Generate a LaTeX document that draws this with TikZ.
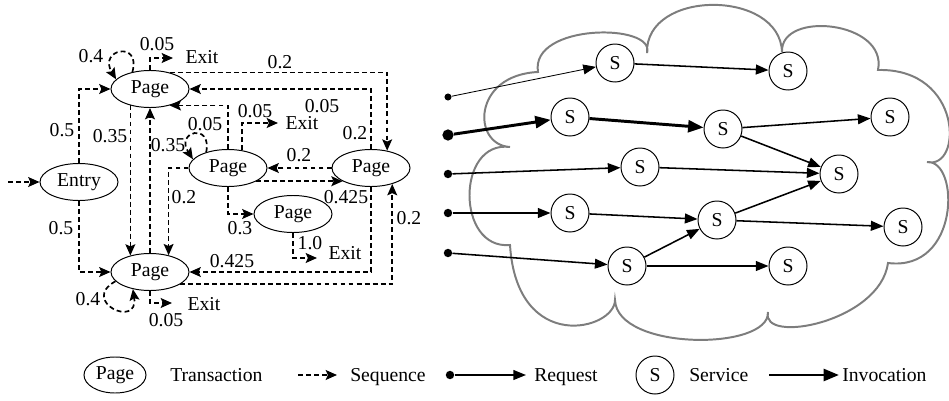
\documentclass[tikz,border=0pt]{standalone}
\usepackage{fontspec}
\setmainfont{Liberation Serif}
\newfontfamily\timesfont{Liberation Serif}
\usetikzlibrary{arrows.meta, shapes.geometric, positioning}
\definecolor{CloudColor}{RGB}{125,125,125}
\tikzstyle{trans} = [ellipse, draw, line width=0.7pt, minimum width=1.95cm, minimum height=0.925cm, inner sep=0pt]
\tikzstyle{srv} = [circle, draw, line width=0.7pt, minimum size=0.95cm, inner sep=0pt]
\tikzstyle{dot} = [circle, fill, inner sep=0pt, minimum size=6pt]
\tikzstyle{seq} = [line width=1.2pt, dash pattern=on 3.5pt off 2.2pt, -{Stealth[length=8pt,width=7pt,inset=1.5pt]}]
\tikzstyle{req} = [line width=1.1pt, -{Triangle[length=9pt,width=7pt]}]
\tikzstyle{inv} = [line width=2.1pt, -{Triangle[length=11pt,width=8.5pt]}]
\tikzstyle{lbl} = [inner sep=0pt]

\begin{document}
\begin{tikzpicture}[x=0.025cm, y=-0.025cm, font=\timesfont\fontsize{14}{16}\selectfont]
\useasboundingbox (0,0) rectangle (949,401);

% cloud
\draw[CloudColor, line width=1.4pt] (538,72)
  .. controls (530,23) and (656,23) .. (647,53)
  .. controls (645,-11) and (780,-11) .. (782,52)
  .. controls (780,10) and (888,21) .. (878,70)
  .. controls (963,68) and (963,170) .. (927,162)
  .. controls (960,160) and (960,272) .. (888,263)
  .. controls (880,322) and (760,345) .. (768,312)
  .. controls (770,351) and (617,351) .. (615,300)
  .. controls (615,330) and (517,355) .. (510,245)
  .. controls (456,250) and (456,140) .. (510,147)
  .. controls (472,145) and (472,75) .. (538,72) -- cycle;

% transactions
\node[trans] (entry) at (79,182) {Entry};
\node[trans] (pgA) at (150,89) {Page};
\node[trans] (pgB) at (228,168) {Page};
\node[trans] (pgC) at (371,168) {Page};
\node[trans] (pgD) at (293,214) {Page};
\node[trans] (pgE) at (150,272) {Page};

\coordinate (in0) at (8,182);
\coordinate (exA) at (173,58);
\coordinate (exB) at (278,123);
\coordinate (exD) at (317,258);
\coordinate (exE) at (172,303);
\node[lbl] (exitA) at (202,57) {Exit};
\node[lbl] (exitB) at (302,123) {Exit};
\node[lbl] (exitD) at (345,253) {Exit};
\node[lbl] (exitE) at (204,304) {Exit};

% sequences
\draw[seq] (in0) -- (entry.west);
\draw[seq] (entry.north) |- (pgA.west);
\draw[seq] (entry.south) |- (pgE.west);
\draw[seq] (pgA.136) .. controls +(9,-32) and +(-18,-30) .. (pgA.164);
\draw[seq] (pgA.north) |- (exA);
\draw[seq] (pgA.40) -| (pgC.47);
\draw[seq] (pgC.north) |- (pgA.east);
\draw[seq] (pgA.-140) -- (pgE.140);
\draw[seq] (pgE.north) -- (pgA.south);
\draw[seq] (pgB.144) .. controls +(6,-30) and +(-18,-28) .. (pgB.166);
\draw[seq] (pgB.north) |- (pgA.-40);
\draw[seq] (pgB.51) |- (exB);
\draw[seq] (pgC.west) -- (pgB.east);
\draw[seq] (pgB.-25) -- (pgC.-155);
\draw[seq] (pgB.south) |- (pgD.west);
\draw[seq] (pgD.south) |- (exD);
\draw[seq] (pgB.west) -| (pgE.42);
\draw[seq] (pgC.south) |- (pgE.east);
\draw[seq] (pgE.-22) -| (pgC.-37);
\draw[seq] (pgE.195) .. controls +(-36,20) and +(6,40) .. (pgE.225);
\draw[seq] (pgE.south) |- (exE);

% probabilities
\node[lbl] (pEA) at (62,130) {0.5};
\node[lbl] (pEE) at (61,228) {0.5};
\node[lbl] (pAE) at (110,136) {0.35};
\node[lbl] (pEA2) at (168,145) {0.35};
\node[lbl] (pAA) at (91,56) {0.4};
\node[lbl] (pAx) at (157,44) {0.05};
\node[lbl] (pAC) at (280,62) {0.2};
\node[lbl] (pCA) at (322,106) {0.05};
\node[lbl] (pCA2) at (355,133) {0.2};
\node[lbl] (pBB) at (205,124) {0.05};
\node[lbl] (pBx) at (255,111) {0.05};
\node[lbl] (pCB) at (299,155) {0.2};
\node[lbl] (pBC) at (346,197) {0.425};
\node[lbl] (pBE) at (184,197) {0.2};
\node[lbl] (pBD) at (240,228) {0.3};
\node[lbl] (pDx) at (310,243) {1.0};
\node[lbl] (pCE) at (232,261) {0.425};
\node[lbl] (pEC) at (409,218) {0.2};
\node[lbl] (pEE2) at (88,299) {0.4};
\node[lbl] (pEx) at (166,320) {0.05};

% services
\node[srv] (s1) at (615,63) {S};
\node[srv] (s2) at (788,71) {S};
\node[srv] (s3) at (570,117) {S};
\node[srv] (s4) at (723,129) {S};
\node[srv] (s5) at (890,117) {S};
\node[srv] (s6) at (640,167) {S};
\node[srv] (s7) at (839,174) {S};
\node[srv] (s8) at (570,213) {S};
\node[srv] (s9) at (717,220) {S};
\node[srv] (s10) at (903,227) {S};
\node[srv] (s11) at (627,266) {S};
\node[srv] (s12) at (788,266) {S};

\node[dot, minimum size=5pt] (r1) at (448,97) {};
\node[dot, minimum size=8pt] (r2) at (448,135) {};
\node[dot] (r3) at (448,174) {};
\node[dot] (r4) at (448,213) {};
\node[dot] (r5) at (448,253) {};

\draw[req, line width=0.6pt] (r1) -- (s1);
\draw[inv] (r2) -- (s3);
\draw[inv] (s3) -- (s4);
\draw[req] (r3) -- (s6);
\draw[req] (r4) -- (s8);
\draw[req] (r5) -- (s11);
\draw[req] (s1) -- (s2);
\draw[req] (s4) -- (s5);
\draw[req] (s4) -- (s7);
\draw[req] (s6) -- (s7);
\draw[req] (s8) -- (s9);
\draw[req] (s9) -- (s7);
\draw[req] (s9) -- (s10);
\draw[req] (s11) -- (s9);
\draw[req] (s11) -- (s12);

% legend
\node[trans, minimum width=1.55cm, minimum height=0.9cm] (lgPage) at (115,375) {Page};
\node[lbl, anchor=base west] (lgTrans) at (170,381) {Transaction};
\coordinate (lgSeqA) at (298,375);
\coordinate (lgSeqB) at (337,375);
\draw[seq] (lgSeqA) -- (lgSeqB);
\node[lbl, anchor=base west] (lgSeq) at (350,381) {Sequence};
\node[dot] (lgDot) at (450,375) {};
\coordinate (lgReqB) at (526,375);
\draw[req] (lgDot) -- (lgReqB);
\node[lbl, anchor=base west] (lgReq) at (534,381) {Request};
\node[srv] (lgSrv) at (655,375) {S};
\node[lbl, anchor=base west] (lgService) at (689,381) {Service};
\coordinate (lgInvA) at (769,375);
\coordinate (lgInvB) at (839,375);
\draw[inv] (lgInvA) -- (lgInvB);
\node[lbl, anchor=base west] (lgInv) at (842,381) {Invocation};
\end{tikzpicture}
\end{document}
